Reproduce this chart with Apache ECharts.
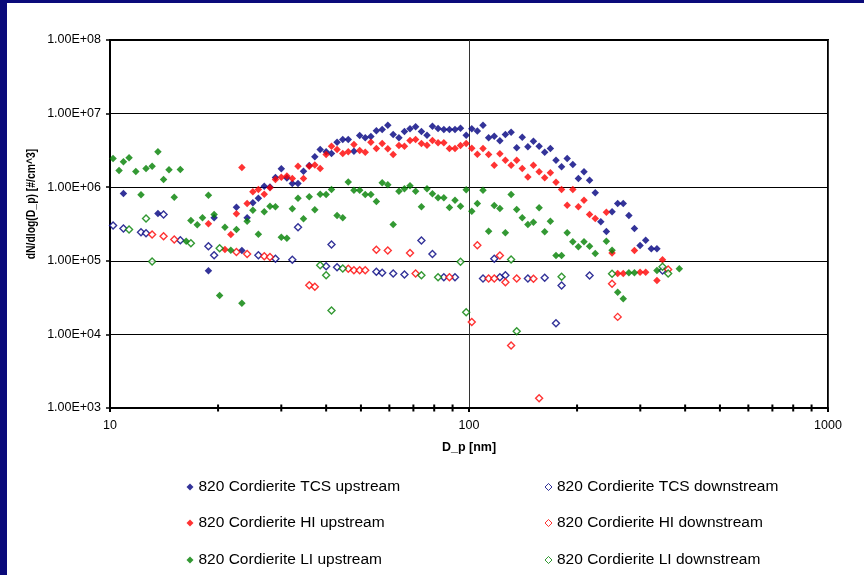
<!DOCTYPE html>
<html>
<head>
<meta charset="utf-8">
<script src="https://cdn.jsdelivr.net/npm/echarts@6/dist/echarts.min.js"></script>
<style>
  html, body { margin: 0; padding: 0; }
  #wrap { position: relative; width: 864px; height: 575px; background: #0a0a7a; overflow: hidden; }
  #chart { position: absolute; left: 7px; top: 3px; width: 857px; height: 572px; background: #ffffff; }
</style>
</head>
<body>
<div id="wrap"><div id="chart"></div></div>
<script>
// Particle size distributions, 820 Cordierite, pairs of [D_p (nm), dN/dlog(D_p) (#/cm^3)]
const tcsUpstream = [
  [10.9, 8.2e5], [13.6, 4.4e5], [18.8, 7.3e4], [19.5, 3.84e5], [22.5, 5.35e5], [23.3, 1.38e5],
  [24.1, 3.84e5], [25.0, 6.14e5], [25.9, 7.09e5], [26.9, 1.03e6], [27.9, 1.01e6], [28.9, 1.35e6],
  [30.0, 1.78e6], [31.1, 1.33e6], [32.2, 1.12e6], [33.4, 1.12e6], [34.6, 1.65e6], [35.9, 1.97e6],
  [37.2, 2.59e6], [38.5, 3.25e6], [40.0, 3.03e6], [41.4, 2.87e6], [42.9, 4.09e6], [44.5, 4.45e6],
  [46.1, 4.45e6], [47.8, 3.08e6], [49.6, 5.04e6], [51.4, 4.69e6], [53.3, 4.89e6], [55.2, 5.84e6],
  [57.3, 6.08e6], [59.4, 6.96e6], [61.5, 5.2e6], [63.8, 4.69e6], [66.1, 5.71e6], [68.5, 6.21e6],
  [71.0, 6.62e6], [73.7, 5.71e6], [76.4, 5.09e6], [79.1, 6.74e6], [82.0, 6.28e6], [85.1, 6.08e6],
  [88.2, 6.08e6], [91.4, 6.08e6], [94.7, 6.33e6], [98.2, 5.09e6], [101.8, 6.23e6], [105.5, 5.78e6],
  [109.4, 6.96e6], [113.4, 4.69e6], [117.6, 4.93e6], [121.9, 4.27e6], [126.3, 5.2e6], [131.0, 5.59e6],
  [135.8, 3.43e6], [140.7, 4.78e6], [145.9, 3.54e6], [151.2, 4.22e6], [156.8, 3.61e6], [162.5, 2.99e6],
  [168.5, 3.36e6], [174.7, 2.33e6], [181.1, 1.89e6], [187.7, 2.45e6], [194.6, 2.03e6], [201.7, 1.31e6],
  [209.1, 1.62e6], [216.7, 1.24e6], [224.7, 8.4e5], [232.9, 3.39e5], [241.4, 2.5e5], [250.3, 4.63e5],
  [259.5, 6.01e5], [269.0, 6.01e5], [278.8, 4.13e5], [289.0, 2.75e5], [299.6, 1.61e5], [310.6, 1.9e5],
  [322.0, 1.46e5], [333.8, 1.46e5]
];
const tcsDownstream = [
  [10.2, 3.02e5], [10.9, 2.75e5], [12.2, 2.45e5], [12.6, 2.37e5], [14.1, 4.26e5], [15.7, 1.9e5],
  [18.8, 1.58e5], [19.5, 1.19e5], [25.9, 1.19e5], [28.9, 1.07e5], [32.2, 1.03e5], [33.4, 2.86e5],
  [40.0, 8.45e4], [41.4, 1.66e5], [42.9, 8.19e4], [55.2, 7.09e4], [57.3, 6.87e4], [61.5, 6.72e4],
  [66.1, 6.52e4], [73.7, 1.89e5], [79.1, 1.24e5], [85.1, 5.99e4], [91.4, 5.99e4], [109.4, 5.75e4],
  [117.6, 1.07e5], [121.9, 5.99e4], [126.3, 6.37e4], [145.9, 5.75e4], [162.5, 5.88e4], [174.7, 1.42e4],
  [181.1, 4.62e4], [216.7, 6.31e4], [346.0, 7.38e4]
];
const hiUpstream = [
  [18.8, 3.18e5], [20.9, 1.42e5], [21.7, 2.28e5], [22.5, 4.35e5], [23.3, 1.85e6], [24.1, 6.0e5],
  [25.0, 8.66e5], [25.9, 9.3e5], [26.9, 8.03e5], [27.9, 9.8e5], [28.9, 1.27e6], [30.0, 1.36e6],
  [31.1, 1.42e6], [32.2, 1.31e6], [33.4, 1.93e6], [34.6, 1.31e6], [35.9, 1.93e6], [37.2, 2.01e6],
  [38.5, 1.8e6], [40.0, 2.78e6], [41.4, 3.61e6], [42.9, 3.25e6], [44.5, 2.87e6], [46.1, 3.03e6],
  [47.8, 3.8e6], [49.6, 3.15e6], [51.4, 2.99e6], [53.3, 4.09e6], [55.2, 3.36e6], [57.3, 3.92e6],
  [59.4, 3.32e6], [61.5, 2.78e6], [63.8, 3.69e6], [66.1, 3.61e6], [68.5, 4.31e6], [71.0, 4.45e6],
  [73.7, 3.92e6], [76.4, 3.72e6], [79.1, 4.31e6], [82.0, 4.01e6], [85.1, 4.01e6], [88.2, 3.36e6],
  [91.4, 3.36e6], [94.7, 3.69e6], [98.2, 3.92e6], [101.8, 3.39e6], [105.5, 2.81e6], [109.4, 3.36e6],
  [113.4, 2.78e6], [117.6, 1.99e6], [121.9, 2.84e6], [126.3, 2.33e6], [131.0, 1.99e6], [135.8, 2.33e6],
  [140.7, 1.8e6], [145.9, 1.38e6], [151.2, 1.99e6], [156.8, 1.62e6], [162.5, 1.34e6], [168.5, 1.57e6],
  [174.7, 1.17e6], [181.1, 9.3e5], [187.7, 5.69e5], [194.6, 9.3e5], [201.7, 5.42e5], [209.1, 6.66e5],
  [216.7, 4.26e5], [224.7, 3.76e5], [241.4, 4.57e5], [250.3, 1.28e5], [259.5, 6.72e4], [269.0, 6.72e4],
  [289.0, 1.38e5], [299.6, 7.0e4], [310.6, 7.0e4], [333.8, 5.4e4], [346.0, 1.03e5]
];
const hiDownstream = [
  [13.1, 2.28e5], [14.1, 2.16e5], [15.1, 1.95e5], [22.5, 1.32e5], [24.1, 1.24e5], [26.9, 1.15e5],
  [27.9, 1.13e5], [35.9, 4.66e4], [37.2, 4.43e4], [46.1, 7.78e4], [47.8, 7.45e4], [49.6, 7.45e4],
  [51.4, 7.45e4], [55.2, 1.41e5], [59.4, 1.38e5], [68.5, 1.28e5], [71.0, 6.72e4], [88.2, 5.99e4],
  [101.8, 1.47e4], [105.5, 1.63e5], [113.4, 5.75e4], [117.6, 5.75e4], [121.9, 1.18e5], [126.3, 5.12e4],
  [131.0, 7.07e3], [135.8, 5.75e4], [151.2, 5.7e4], [156.8, 1.36e3], [250.3, 4.87e4], [259.5, 1.73e4],
  [358.7, 7.62e4]
];
const liUpstream = [
  [10.2, 2.45e6], [10.6, 1.69e6], [10.9, 2.21e6], [11.3, 2.51e6], [11.8, 1.63e6], [12.2, 7.88e5],
  [12.6, 1.8e6], [13.1, 1.93e6], [13.6, 3.03e6], [14.1, 1.27e6], [14.6, 1.72e6], [15.1, 7.31e5],
  [15.7, 1.74e6], [16.3, 1.85e5], [16.8, 3.53e5], [17.5, 3.08e5], [18.1, 3.84e5], [18.8, 7.79e5],
  [19.5, 4.26e5], [20.2, 3.38e4], [20.9, 2.86e5], [21.7, 1.39e5], [22.5, 2.66e5], [23.3, 2.65e4],
  [24.1, 3.45e5], [25.0, 4.87e5], [25.9, 2.3e5], [26.9, 4.63e5], [27.9, 5.52e5], [28.9, 5.42e5],
  [30.0, 2.09e5], [31.1, 2.03e5], [32.2, 5.09e5], [33.4, 7.09e5], [34.6, 3.72e5], [35.9, 7.41e5],
  [37.2, 4.93e5], [38.5, 8.03e5], [40.0, 7.96e5], [41.4, 9.3e5], [42.9, 4.13e5], [44.5, 3.84e5],
  [46.1, 1.18e6], [47.8, 9.1e5], [49.6, 9.1e5], [51.4, 7.96e5], [53.3, 7.96e5], [55.2, 6.39e5],
  [57.3, 1.15e6], [59.4, 1.08e6], [61.5, 3.11e5], [63.8, 8.83e5], [66.1, 9.5e5], [68.5, 1.05e6],
  [71.0, 8.83e5], [73.7, 5.42e5], [76.4, 9.5e5], [79.1, 8.13e5], [82.0, 7.18e5], [85.1, 7.18e5],
  [88.2, 5.3e5], [91.4, 6.66e5], [94.7, 5.52e5], [98.2, 9.2e5], [101.8, 4.72e5], [105.5, 6.01e5],
  [109.4, 9.1e5], [113.4, 2.53e5], [117.6, 5.64e5], [121.9, 5.13e5], [126.3, 2.4e5], [131.0, 7.96e5],
  [135.8, 4.98e5], [140.7, 3.84e5], [145.9, 3.11e5], [151.2, 3.35e5], [156.8, 5.25e5], [162.5, 2.48e5],
  [168.5, 3.45e5], [174.7, 1.18e5], [181.1, 1.18e5], [187.7, 2.4e5], [194.6, 1.81e5], [201.7, 1.55e5],
  [209.1, 1.81e5], [216.7, 1.58e5], [224.7, 1.26e5], [241.4, 1.85e5], [250.3, 1.39e5], [259.5, 3.74e4],
  [269.0, 3.05e4], [278.8, 6.87e4], [289.0, 6.87e4], [333.8, 7.38e4], [385.4, 7.78e4]
];
const liDownstream = [
  [11.3, 2.66e5], [12.6, 3.76e5], [13.1, 9.8e4], [16.8, 1.73e5], [20.2, 1.48e5], [38.5, 8.71e4],
  [40.0, 6.37e4], [41.4, 2.11e4], [44.5, 7.86e4], [73.7, 6.37e4], [82.0, 5.99e4], [94.7, 9.7e4],
  [98.2, 2.0e4], [131.0, 1.04e5], [135.8, 1.1e4], [181.1, 6.06e4], [250.3, 6.66e4], [346.0, 8.29e4],
  [358.7, 6.72e4]
];

// Series names and colours, in plotting order
const seriesNames = [
  '820 Cordierite TCS upstream', '820 Cordierite TCS downstream',
  '820 Cordierite HI upstream', '820 Cordierite HI downstream',
  '820 Cordierite LI upstream', '820 Cordierite LI downstream'
];
const seriesData = [tcsUpstream, tcsDownstream, hiUpstream, hiDownstream, liUpstream, liDownstream];
const seriesColors = ['#000080', '#000080', '#ff0000', '#ff0000', '#008000', '#008000'];
const seriesHollow = [false, true, false, true, false, true];

// Unlabelled minor ticks on the diameter axis
const minorTickValues = [20, 30, 40, 50, 60, 70, 80, 90, 200, 300, 400, 500, 600, 700, 800, 900];

const FONT = 'Arial, "Liberation Sans", sans-serif';

function sciLabel(v) {
  const e = Math.round(Math.log10(v));
  const m = v / Math.pow(10, e);
  return m.toFixed(2) + 'E' + (e < 0 ? '-' : '+') + String(Math.abs(e)).padStart(2, '0');
}

const scatterSeries = seriesData.map((data, i) => ({
  name: seriesNames[i],
  type: 'scatter',
  data: data,
  symbol: 'diamond',
  symbolSize: seriesHollow[i] ? [7, 7] : [7.5, 7.5],
  itemStyle: seriesHollow[i]
    ? { color: '#ffffff', borderColor: seriesColors[i], borderWidth: 1.4 }
    : { color: seriesColors[i], borderWidth: 0 },
  emphasis: { disabled: true },
  animation: false,
  z: 3 + i
}));

const minorTicks = {
  name: 'minorTicks',
  type: 'custom',
  data: minorTickValues.map(v => [v, 1e3]),
  encode: { x: 0, y: 1 },
  clip: false,
  silent: true,
  z: 20,
  renderItem: function (params, api) {
    const p = api.coord([api.value(0), api.value(1)]);
    return {
      type: 'line',
      shape: { x1: p[0], y1: p[1] - 3.5, x2: p[0], y2: p[1] + 3.5 },
      style: { stroke: '#000', lineWidth: 2 }
    };
  }
};

// Two-column legend: one legend block per entry
const legendCols = [179.5, 537.5];
const legendRows = [476, 512, 549];
const legends = seriesNames.map((n, i) => ({
  data: [n],
  left: legendCols[i % 2],
  top: legendRows[Math.floor(i / 2)],
  padding: 0,
  icon: 'diamond',
  itemWidth: 7,
  itemHeight: 7,
  itemGap: 5,
  selectedMode: false,
  itemStyle: seriesHollow[i] ? { borderWidth: 1 } : { borderWidth: 0 },
  textStyle: { color: '#000', fontSize: 15.5, fontFamily: FONT }
}));

const chart = echarts.init(document.getElementById('chart'), null, { renderer: 'canvas' });
chart.setOption({
  animation: false,
  backgroundColor: '#ffffff',
  grid: {
    left: 103, top: 37, right: 36, bottom: 167,
    show: true, borderColor: '#000', borderWidth: 2, backgroundColor: 'transparent'
  },
  legend: legends,
  xAxis: {
    type: 'log', logBase: 10, min: 10, max: 1000,
    name: 'D_p [nm]', nameLocation: 'middle', nameGap: 33,
    nameTextStyle: { fontWeight: 'bold', fontSize: 12.5, color: '#000', fontFamily: FONT },
    axisLine: { show: true, lineStyle: { color: '#000', width: 2 } },
    axisTick: { show: true, length: 4, lineStyle: { color: '#000', width: 2 } },
    axisLabel: {
      color: '#000', fontSize: 12.5, fontFamily: FONT, margin: 11,
      formatter: v => String(Math.round(v))
    },
    splitLine: { show: true, lineStyle: { color: '#333', width: 1 } }
  },
  yAxis: {
    type: 'log', logBase: 10, min: 1e3, max: 1e8,
    axisLine: { show: true, lineStyle: { color: '#000', width: 2 } },
    axisTick: { show: true, length: 4, lineStyle: { color: '#000', width: 1.5 } },
    axisLabel: { color: '#000', fontSize: 12.5, fontFamily: FONT, margin: 9, formatter: sciLabel },
    splitLine: { show: true, lineStyle: { color: '#000', width: 1 } }
  },
  graphic: [{
    type: 'text',
    x: 24, y: 201,
    rotation: Math.PI / 2,
    scaleX: 0.8,
    style: {
      text: 'dN/dlog(D_p) [#/cm^3]',
      fill: '#000',
      font: 'bold 13px ' + FONT,
      align: 'center', verticalAlign: 'middle',
      textAlign: 'center', textVerticalAlign: 'middle'
    }
  }],
  series: scatterSeries.concat([minorTicks])
});
</script>
</body>
</html>
